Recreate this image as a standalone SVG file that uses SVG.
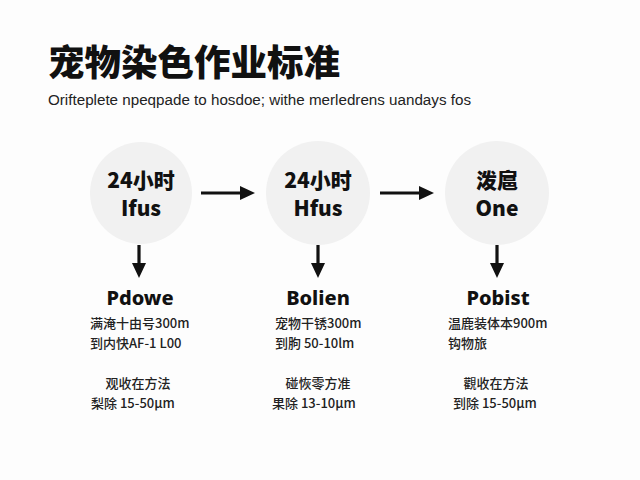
<svg xmlns="http://www.w3.org/2000/svg" width="640" height="480" viewBox="0 0 640 480">
<defs>
<marker id="ah" viewBox="0 0 15 14" refX="1" refY="7" markerWidth="15" markerHeight="14" orient="auto" markerUnits="userSpaceOnUse">
<path d="M0,0 L15,7 L0,14 z" fill="#111"/>
</marker>
<style>
.bg{fill:#fdfdfd}
.title{font-family:"Noto Sans CJK SC","Noto Sans",sans-serif;font-weight:900;font-size:36.5px;fill:#111}
.sub{font-family:"Liberation Sans","Noto Sans",sans-serif;font-size:15.2px;fill:#222}
.circ{fill:#f1f1f1}
.ct{font-family:"Noto Sans CJK SC","Noto Sans",sans-serif;font-weight:900;font-size:21px;fill:#111;text-anchor:middle}
.hd{font-family:"Noto Sans","Noto Sans CJK SC",sans-serif;font-weight:800;font-size:20px;fill:#111;text-anchor:middle}
.bt{font-family:"Noto Sans CJK SC","Noto Sans",sans-serif;font-weight:500;font-size:13px;fill:#222}
.btc{font-family:"Noto Sans CJK SC","Noto Sans",sans-serif;font-weight:500;font-size:13px;fill:#222;text-anchor:middle}
.ar{stroke:#111;stroke-width:3.2;fill:none;marker-end:url(#ah)}
</style>
</defs>
<rect class="bg" x="0" y="0" width="640" height="480"/>
<text class="title" x="48" y="76">宠物染色作业标准</text>
<text class="sub" x="48" y="105">Orifteplete npeqpade to hosdoe; withe merledrens uandays fos</text>

<g id="connectors">
<line class="ar" x1="201" y1="193" x2="241" y2="193"/>
<line class="ar" x1="380" y1="193" x2="420" y2="193"/>
<line class="ar" x1="139" y1="245" x2="139" y2="264"/>
<line class="ar" x1="318" y1="245" x2="318" y2="264"/>
<line class="ar" x1="497" y1="245" x2="497" y2="264"/>
</g>

<g id="node1">
<circle class="circ" cx="141" cy="193" r="51"/>
<text class="ct" x="141" y="188">24小时</text>
<text class="ct" x="141" y="216">Ifus</text>
</g>
<g id="node2">
<circle class="circ" cx="318" cy="193" r="52"/>
<text class="ct" x="318" y="188">24小时</text>
<text class="ct" x="318" y="216">Hfus</text>
</g>
<g id="node3">
<circle class="circ" cx="497" cy="193" r="52"/>
<text class="ct" x="497" y="188">泼扈</text>
<text class="ct" x="497" y="216">One</text>
</g>

<g id="detail1">
<text class="hd" x="140" y="305">Pdowe</text>
<text class="bt" x="90" y="328">满淹十由号300m</text>
<text class="bt" x="90" y="348">到内快AF-1 L00</text>
<text class="btc" x="138" y="388">观收在方法</text>
<text class="bt" x="91" y="408">梨除 15-50μm</text>
</g>
<g id="detail2">
<text class="hd" x="318" y="305">Bolien</text>
<text class="bt" x="275" y="328">宠物干锈300m</text>
<text class="bt" x="275" y="348">到朐 50-10lm</text>
<text class="btc" x="318" y="388">碰恢零方准</text>
<text class="bt" x="272" y="408">果除 13-10μm</text>
</g>
<g id="detail3">
<text class="hd" x="498" y="305">Pobist</text>
<text class="bt" x="448" y="328">温鹿装体本900m</text>
<text class="bt" x="448" y="348">钩物旅</text>
<text class="btc" x="496" y="388">觀收在方法</text>
<text class="bt" x="453" y="408">到除 15-50μm</text>
</g>
</svg>
